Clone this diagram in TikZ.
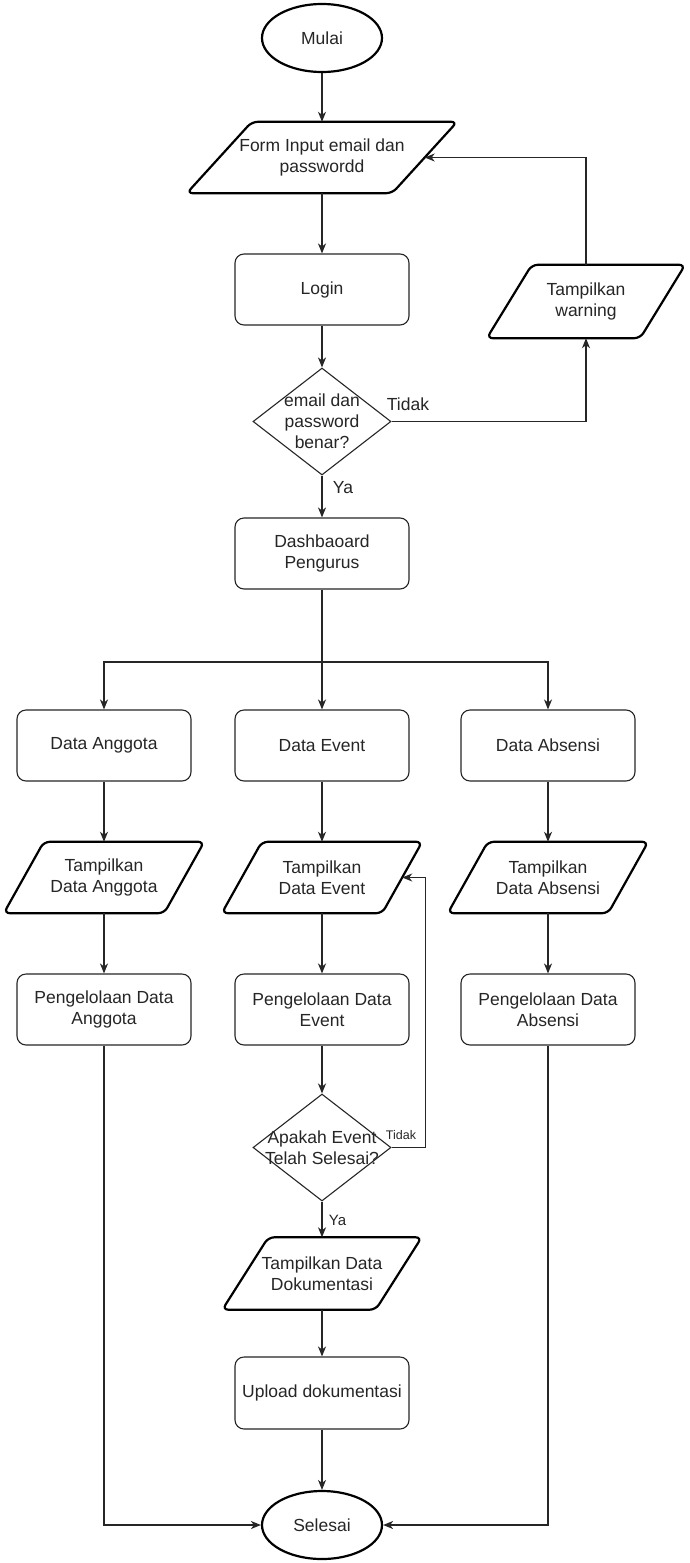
\documentclass[tikz,border=0pt]{standalone}
\usepackage{fontspec}
\setmainfont{Liberation Sans}
\usetikzlibrary{shapes.geometric, arrows.meta, calc}
\begin{document}
\begin{tikzpicture}[x=1pt, y=-1pt, font=\fontsize{17.5}{21}\selectfont]
\tikzset{
 base/.style={text=black!85, align=center, inner sep=0pt},
 proc/.style={base, draw=black!85, rounded corners=9pt, line width=1.1pt, minimum width=174pt, minimum height=71pt},
 term/.style={base, draw=black, ellipse, line width=2.2pt, minimum width=120pt, minimum height=68pt},
 dec/.style={base, draw=black!85, diamond, line width=1.1pt, minimum width=138pt, minimum height=107pt},
 io/.style={base, minimum width=#1, minimum height=71pt},
 iobox/.style={draw=black, line width=2.2pt, rounded corners=6pt},
 arr/.style={draw=black!85, line width=1.1pt, -{Stealth[length=10pt,width=8pt,inset=3pt]}},
 lbl/.style={text=black!85, inner sep=0pt},
}
\fill[white] (0,0) rectangle (689,1563);
\useasboundingbox (0,0) rectangle (689,1563);

% nodes
\node[term] (mulai) at (322,38) {Mulai};
\node[io=205pt] (form) at (322,157.5) {Form Input email dan\\passwordd};
\node[proc] (login) at (322,289.5) {Login};
\node[io=153pt, minimum height=73pt] (warn) at (586,301.5) {Tampilkan\\warning};
\node[dec, label={[base]center:{email dan\\password\\benar?}}] (d1) at (322,421.5) {};
\node[proc] (dash) at (322,553.5) {Dashbaoard\\Pengurus};
\node[proc] (da) at (104,745.5) {Data Anggota};
\node[proc] (de) at (322,745.5) {Data Event};
\node[proc] (db) at (548,745.5) {Data Absensi};
\node[io=160pt] (ta) at (104,877.5) {Tampilkan\\Data Anggota};
\node[io=160pt] (te) at (322,877.5) {Tampilkan\\Data Event};
\node[io=160pt] (tb) at (548,877.5) {Tampilkan\\Data Absensi};
\node[proc] (pa) at (104,1009.5) {Pengelolaan Data\\Anggota};
\node[proc] (pe) at (322,1009.5) {Pengelolaan Data\\Event};
\node[proc] (pb) at (548,1009.5) {Pengelolaan Data\\Absensi};
\node[dec, label={[base]center:{Apakah Event\\Telah Selesai?}}] (d2) at (322,1147.5) {};
\node[io=153pt, minimum height=72pt] (td) at (322,1273.5) {Tampilkan Data\\Dokumentasi};
\node[proc, minimum height=72pt] (up) at (322,1393) {Upload dokumentasi};
\node[term] (sel) at (322,1525) {Selesai};

% parallelogram outlines
\foreach \n/\s in {form/32.5, warn/22.5, ta/20, te/20, tb/20, td/23}
  \draw[iobox] ($(\n.north west)+(\s,0)$) -- ($(\n.north east)+(\s,0)$)
     -- ($(\n.south east)+(-\s,0)$) -- ($(\n.south west)+(-\s,0)$) -- cycle;

% connectors
\draw[arr] (mulai.south) -- (form.north);
\draw[arr] (form.south) -- (login.north);
\draw[arr] (login.south) -- (d1.north);
\draw[arr] (d1.east) -| (warn.south);
\draw[arr] (warn.north) |- (form.east);
\draw[arr] (d1.south) -- (dash.north);
\node[lbl] (tidak1) at (408,404) {Tidak};
\node[lbl] (ya1) at (343,488) {Ya};

\coordinate (split) at (322,662);
\draw[arr] (dash.south) -- (de.north);
\draw[arr] (split) -| (da.north);
\draw[arr] (split) -| (db.north);

\draw[arr] (da.south) -- (ta.north);
\draw[arr] (de.south) -- (te.north);
\draw[arr] (db.south) -- (tb.north);
\draw[arr] (ta.south) -- (pa.north);
\draw[arr] (te.south) -- (pe.north);
\draw[arr] (tb.south) -- (pb.north);
\draw[arr] (pe.south) -- (d2.north);

\draw[arr] (d2.east) -- ++(34,0) |- (te.east);
\node[lbl, font=\fontsize{12.5}{15}\selectfont] (tidak2) at (401,1135) {Tidak};
\draw[arr] (d2.south) -- (td.north);
\node[lbl, font=\fontsize{15}{18}\selectfont] (ya2) at (337.5,1220) {Ya};
\draw[arr] (td.south) -- (up.north);
\draw[arr] (up.south) -- (sel.north);

\draw[arr] (pa.south) |- (sel.west);
\draw[arr] (pb.south) |- (sel.east);
\end{tikzpicture}
\end{document}
